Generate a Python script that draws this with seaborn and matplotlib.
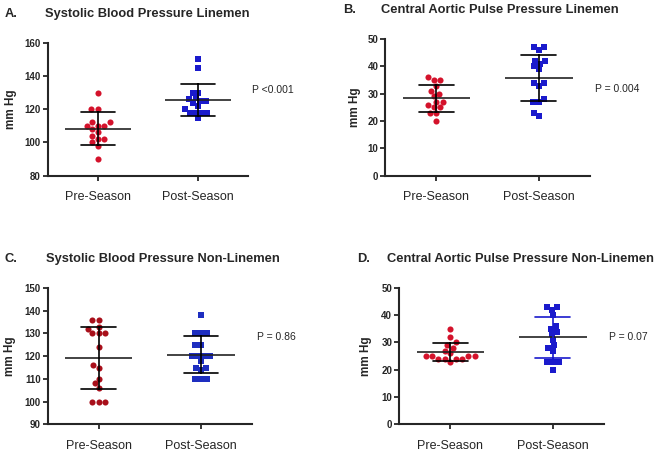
import matplotlib
matplotlib.use('Agg')

import numpy as np
import pandas as pd
import matplotlib.pyplot as plt
import seaborn as sns

groups = ['Pre-Season', 'Post-Season']

# values (mm Hg)
a_pre = [130, 120, 120, 112, 112, 110, 110, 110, 108, 106, 104, 102, 102, 100, 98, 90]
a_post = [150, 145, 130, 130, 127, 126, 125, 125, 124, 122, 120, 118, 118, 118, 118, 115]
b_pre = [36, 35, 35, 33, 31, 30, 29, 27, 27, 26, 25, 25, 23, 23, 20]
b_post = [47, 47, 46, 42, 42, 41, 40, 39, 34, 34, 33, 28, 27, 27, 23, 22]
c_pre = [136, 136, 133, 132, 130, 130, 130, 124, 116, 115, 110, 108, 106, 100, 100, 100]
c_post = [138, 130, 130, 130, 125, 125, 120, 120, 120, 120, 118, 115, 115, 114, 110, 110, 110]
d_pre = [35, 32, 30, 29, 28, 27, 26, 25, 25, 25, 25, 24, 24, 24, 24, 23]
d_post = [43, 43, 42, 40, 36, 35, 34, 33, 31, 29, 28, 27, 23, 23, 23, 20]

letters = ['A.', 'B.', 'C.', 'D.']
titles = ['Systolic Blood Pressure Linemen',
          'Central Aortic Pulse Pressure Linemen',
          'Systolic Blood Pressure Non-Linemen',
          'Central Aortic Pulse Pressure Non-Linemen']
p_texts = ['P <0.001', 'P = 0.004', 'P = 0.86', 'P = 0.07']
y_ranges = [(80, 160, 20), (0, 50, 10), (90, 150, 10), (0, 50, 10)]

RED = '#d4122b'
DARKRED = '#a80f1a'
BLUE = '#1a1acc'

panels = [
    dict(pre=a_pre, post=a_post, colors=(RED, BLUE), err=('black', 'black'),
         rect=[0.072, 0.613, 0.302, 0.293], letter=(0.007, 0.969), title=0.068,
         ylab=-0.155, p=(1.545, 131.5)),
    dict(pre=b_pre, post=b_post, colors=(RED, BLUE), err=('black', 'black'),
         rect=[0.581, 0.613, 0.309, 0.301], letter=(0.518, 0.978), title=0.575,
         ylab=-0.117, p=(1.55, 31.7)),
    dict(pre=c_pre, post=c_post, colors=(DARKRED, '#1e2ec0'), err=('black', 'black'),
         rect=[0.072, 0.065, 0.308, 0.301], letter=(0.007, 0.430), title=0.070,
         ylab=-0.155, p=(1.545, 128.4)),
    dict(pre=d_pre, post=d_post, colors=(RED, BLUE), err=('black', BLUE),
         rect=[0.602, 0.065, 0.309, 0.301], letter=(0.538, 0.429), title=0.584,
         ylab=-0.133, p=(1.55, 32.0)),
]

sns.set_style('ticks')
plt.rcParams['font.family'] = ['Liberation Sans', 'DejaVu Sans']

fig = plt.figure(figsize=(6.63, 4.54), dpi=100)

for i, pn in enumerate(panels):
    df = pd.DataFrame({
        'group': [groups[0]] * len(pn['pre']) + [groups[1]] * len(pn['post']),
        'value': pn['pre'] + pn['post'],
    })
    ax = fig.add_axes(pn['rect'])

    pal = dict(zip(groups, pn['colors']))
    sns.swarmplot(data=df[df.group == groups[0]], x='group', y='value', order=groups,
                  color=pal[groups[0]], marker='o', size=4.4, ax=ax, zorder=2)
    sns.swarmplot(data=df[df.group == groups[1]], x='group', y='value', order=groups,
                  color=pal[groups[1]], marker='s', size=4.0, ax=ax, zorder=2)

    # mean line
    means = df.groupby('group')['value'].mean().reindex(groups)
    ax.hlines(means.values, np.arange(2) - 0.33, np.arange(2) + 0.33,
              color='#222222', linewidth=1.2, zorder=3)

    # mean +/- SD
    sns.pointplot(data=df, x='group', y='value', order=groups, hue='group',
                  palette=dict(zip(groups, pn['err'])), errorbar='sd', capsize=0.34,
                  linestyle='none', marker='', err_kws={'linewidth': 1.2},
                  legend=False, ax=ax)
    for ln in ax.lines:
        ln.set_zorder(3)

    lo, hi, step = y_ranges[i]
    ax.set_ylim(lo, hi)
    ax.set_yticks(np.arange(lo, hi + 1, step))
    ax.set_xlim(-0.5, 1.5)
    ax.set_xlabel('')
    ax.set_ylabel('mm Hg', fontsize=8.5, fontweight='bold')
    ax.yaxis.set_label_coords(pn['ylab'], 0.5)

    sns.despine(ax=ax)
    for side in ['left', 'bottom']:
        ax.spines[side].set_linewidth(1.5)
    ax.tick_params(axis='y', labelsize=7, width=1.3, length=3.5, pad=1.5)
    ax.tick_params(axis='x', labelsize=9, width=1.3, length=3.5, pad=7.5)
    for lbl in ax.get_yticklabels():
        lbl.set_fontweight('bold')

    ax.text(pn['p'][0], pn['p'][1], p_texts[i], fontsize=7.5, ha='left', va='center',
            clip_on=False)

    fig.text(pn['letter'][0], pn['letter'][1], letters[i], fontsize=9.3,
             fontweight='bold', ha='left', va='center')
    fig.text(pn['title'], pn['letter'][1], titles[i], fontsize=9.3,
             fontweight='bold', ha='left', va='center')

fig.savefig('out.png', dpi=100)
